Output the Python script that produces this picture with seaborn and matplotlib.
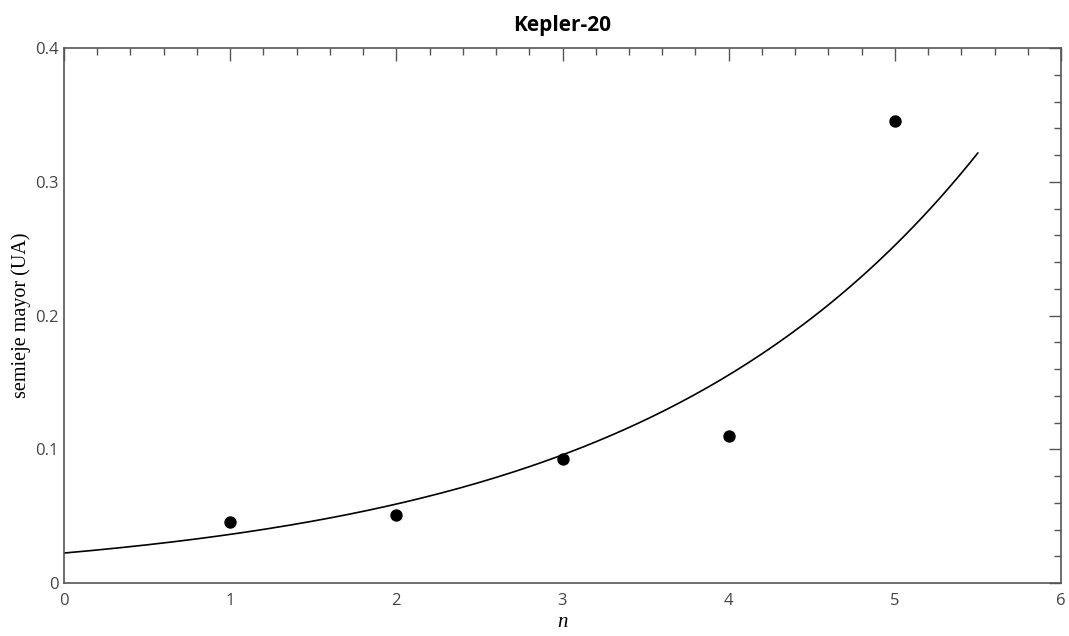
import numpy as np
import pandas as pd
import matplotlib
matplotlib.use("Agg")
import matplotlib.pyplot as plt
import seaborn as sns
from matplotlib.ticker import MultipleLocator

# Kepler-20: semieje mayor por orden n
n_vals = [1, 2, 3, 4, 5]
semieje = [0.0454, 0.0507, 0.0930, 0.1098, 0.3453]

# curva ajustada a*exp(b*n), parametros
fit_a = 0.0224
fit_b = 0.4844
n_max = 5.5

sns.set_theme(style="white")
plt.rcParams['font.family'] = ['Open Sans', 'DejaVu Sans']

gray = '#555555'

fig = plt.figure(figsize=(10.69, 6.36), dpi=100)
ax = fig.add_axes([64/1069, 1 - 583/636, (1061-64)/1069, (583-48)/636])

nn = np.linspace(0, n_max, 200)
curve = pd.DataFrame({'n': nn, 'a': fit_a*np.exp(fit_b*nn)})
sns.lineplot(data=curve, x='n', y='a', color='black', linewidth=1.2, ax=ax)

pts = pd.DataFrame({'n': n_vals, 'a': semieje})
sns.scatterplot(data=pts, x='n', y='a', color='black', s=80, edgecolor='black',
                linewidth=0, ax=ax, zorder=3)

ax.set_xlim(0, 6)
ax.set_ylim(0, 0.4)
ax.xaxis.set_major_locator(MultipleLocator(1))
ax.xaxis.set_minor_locator(MultipleLocator(0.2))
ax.yaxis.set_minor_locator(MultipleLocator(0.02))
ax.set_yticks([0, 0.1, 0.2, 0.3, 0.4])
ax.set_yticklabels(['0', '0.1', '0.2', '0.3', '0.4'])

ax.tick_params(which='both', direction='in', top=True, right=True,
               color=gray, labelcolor='#444444', labelsize=12)
ax.tick_params(which='major', length=9, width=1)
ax.tick_params(which='minor', length=5, width=1)
ax.tick_params(axis='x', pad=7)
ax.tick_params(axis='y', pad=4)
for sp in ax.spines.values():
    sp.set_color(gray)
    sp.set_linewidth(1.2)

ax.set_xlabel('n', family='Liberation Serif', style='italic', fontsize=15,
              color='black', labelpad=3)
ax.set_ylabel('semieje mayor (UA)', family='Liberation Serif', fontsize=14.5,
              color='black', labelpad=3)
ax.set_title('Kepler-20', fontsize=15, fontweight='bold', color='black', pad=12)

fig.savefig('out.png', dpi=100)
